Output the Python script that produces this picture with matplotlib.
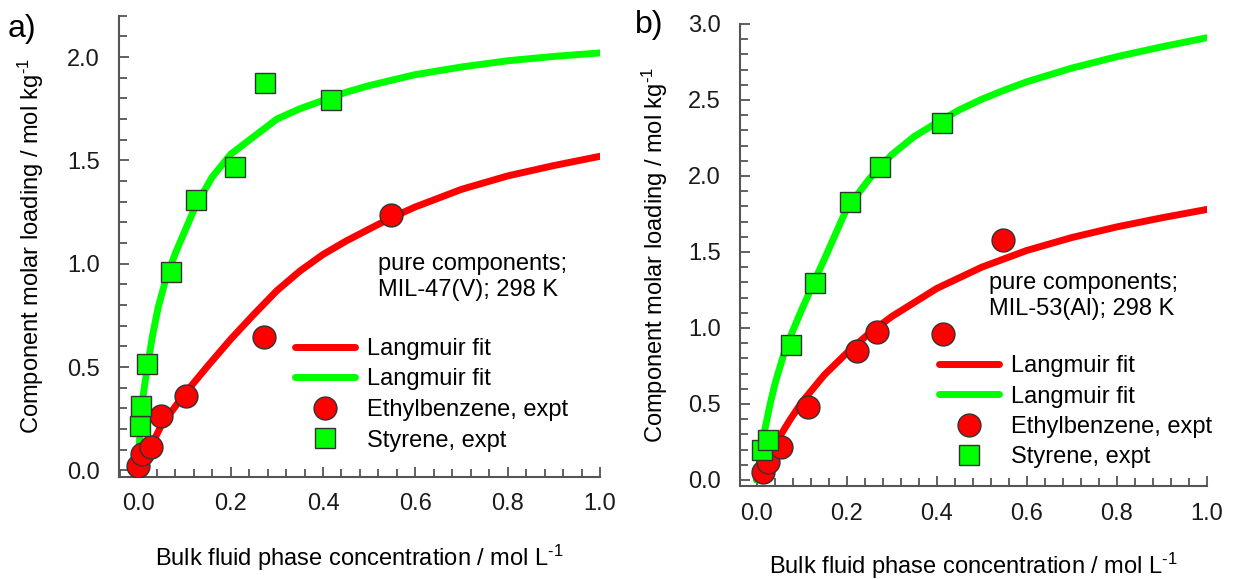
import numpy as np
import matplotlib
matplotlib.use('Agg')
import matplotlib.pyplot as plt
from matplotlib.ticker import MultipleLocator, FormatStrFormatter

plt.rcParams['font.family'] = ['Liberation Sans', 'DejaVu Sans']
plt.rcParams['mathtext.fontset'] = 'custom'
plt.rcParams['mathtext.rm'] = 'Liberation Sans'
plt.rcParams['mathtext.it'] = 'Liberation Sans'

FS = 17

# MIL-47(V): Langmuir fits
fit_a_x = [0.0, 0.003, 0.007, 0.014, 0.02, 0.03, 0.043, 0.06, 0.08, 0.1, 0.125,
           0.16, 0.2, 0.3, 0.35, 0.4, 0.45, 0.5, 0.6, 0.7, 0.8, 0.9, 1.0]
fit_a_sty = [0.0, 0.17, 0.31, 0.42, 0.505, 0.645, 0.79, 0.93, 1.05, 1.155, 1.285,
             1.42, 1.53, 1.70, 1.75, 1.79, 1.83, 1.862, 1.915, 1.952, 1.982,
             2.003, 2.02]
fit_a_eb_x = [0.0, 0.01, 0.028, 0.05, 0.075, 0.1, 0.15, 0.2, 0.25, 0.3, 0.35,
              0.4, 0.45, 0.5, 0.55, 0.6, 0.7, 0.8, 0.9, 1.0]
fit_a_eb = [0.0, 0.05, 0.12, 0.22, 0.295, 0.37, 0.505, 0.635, 0.755, 0.87, 0.965,
            1.045, 1.11, 1.168, 1.225, 1.275, 1.36, 1.425, 1.475, 1.52]

# MIL-47(V): experimental points
eb_a_x = [0.0, 0.007, 0.028, 0.05, 0.104, 0.272, 0.548]
eb_a_q = [0.02, 0.08, 0.116, 0.262, 0.362, 0.644, 1.236]
sty_a_x = [0.003, 0.0065, 0.0195, 0.0715, 0.1257, 0.21, 0.275, 0.418]
sty_a_q = [0.213, 0.31, 0.516, 0.962, 1.309, 1.47, 1.875, 1.793]

# MIL-53(Al): Langmuir fits
fit_b_sty_x = [0.0, 0.01, 0.018, 0.03, 0.041, 0.063, 0.08, 0.1, 0.13, 0.15, 0.2,
               0.25, 0.3, 0.35, 0.4, 0.45, 0.5, 0.55, 0.6, 0.7, 0.8, 0.9, 1.0]
fit_b_sty = [0.0, 0.2, 0.33, 0.50, 0.636, 0.855, 0.98, 1.12, 1.32, 1.45, 1.785,
             1.98, 2.14, 2.26, 2.35, 2.435, 2.505, 2.565, 2.62, 2.71, 2.785,
             2.85, 2.91]
fit_b_eb_x = [0.0, 0.015, 0.03, 0.05, 0.075, 0.1, 0.15, 0.2, 0.25, 0.3, 0.4,
              0.5, 0.6, 0.7, 0.8, 0.9, 1.0]
fit_b_eb = [0.0, 0.09, 0.17, 0.28, 0.40, 0.51, 0.69, 0.835, 0.965, 1.075, 1.26,
            1.40, 1.51, 1.595, 1.665, 1.725, 1.78]

# MIL-53(Al): experimental points
eb_b_x = [0.013, 0.026, 0.054, 0.115, 0.222, 0.268, 0.413, 0.547]
eb_b_q = [0.05, 0.115, 0.218, 0.478, 0.85, 0.976, 0.962, 1.58]
sty_b_x = [0.011, 0.026, 0.076, 0.13, 0.207, 0.274, 0.411]
sty_b_q = [0.2, 0.265, 0.885, 1.294, 1.83, 2.06, 2.347]

RED = '#ff0000'
GREEN = '#00ff00'
EDGE = '#333333'
AXC = '#555555'


def draw_panel(ax, fits, eb, sty, xlim, ylim, ylabel_xy, xlabel_xy,
               note, note_xy, leg_xy, tag, tag_xy):
    (ebx, eby), (stx, sty_) = fits
    ax.plot(ebx, eby, color=RED, lw=5, solid_capstyle='round',
            solid_joinstyle='round', label='Langmuir fit', zorder=2)
    ax.plot(stx, sty_, color=GREEN, lw=5, solid_capstyle='round',
            solid_joinstyle='round', label='Langmuir fit', zorder=2)
    ax.plot(eb[0], eb[1], 'o', ms=16.5, mfc=RED, mec=EDGE, mew=1.0,
            ls='none', label='Ethylbenzene, expt', zorder=3)
    ax.plot(sty[0], sty[1], 's', ms=14.5, mfc=GREEN, mec=EDGE, mew=1.0,
            ls='none', label='Styrene, expt', zorder=4)

    ax.set_xlim(*xlim)
    ax.set_ylim(*ylim)
    ax.xaxis.set_major_locator(MultipleLocator(0.2))
    ax.xaxis.set_minor_locator(MultipleLocator(0.04))
    ax.yaxis.set_major_locator(MultipleLocator(0.5))
    ax.yaxis.set_minor_locator(MultipleLocator(0.1))
    ax.xaxis.set_major_formatter(FormatStrFormatter('%.1f'))
    ax.yaxis.set_major_formatter(FormatStrFormatter('%.1f'))

    for s in ['top', 'right']:
        ax.spines[s].set_visible(False)
    for s in ['left', 'bottom']:
        ax.spines[s].set_color(AXC)
        ax.spines[s].set_linewidth(1.5)
    ax.tick_params(which='both', direction='in', color=AXC, width=1.3,
                   labelsize=FS, labelcolor='#1a1a1a')
    ax.tick_params(which='major', length=7)
    ax.tick_params(which='minor', length=6)
    ax.tick_params(axis='x', which='major', pad=12)
    ax.tick_params(axis='y', which='major', pad=14)

    ax.set_xlabel('Bulk fluid phase concentration / mol L$^{\\text{-1}}$',
                  fontsize=FS, va='center')
    ax.xaxis.set_label_coords(*xlabel_xy)
    ax.set_ylabel('Component molar loading / mol kg$^{\\text{-1}}$',
                  fontsize=FS, va='center')
    ax.yaxis.set_label_coords(*ylabel_xy)

    fig = ax.figure
    fig.text(note_xy[0], note_xy[1], note[0], fontsize=FS, va='center', ha='left')
    fig.text(note_xy[0], note_xy[1] - 26 / 579, note[1], fontsize=FS,
             va='center', ha='left')
    fig.text(tag_xy[0], tag_xy[1], tag, fontsize=23, va='center', ha='left')

    ax.legend(loc='upper left', bbox_to_anchor=leg_xy,
              bbox_transform=fig.transFigure, frameon=False, fontsize=FS,
              numpoints=1, handlelength=2.55, handletextpad=0.5,
              labelspacing=0.36, borderpad=0, borderaxespad=0)


fig = plt.figure(figsize=(12.51, 5.79), dpi=100)
ax_a = fig.add_axes([119 / 1251, 1 - 476.7 / 579, 481 / 1251, 461 / 579])
ax_b = fig.add_axes([740 / 1251, 1 - 486 / 579, 467 / 1251, 462 / 579])

draw_panel(ax_a, ((fit_a_eb_x, fit_a_eb), (fit_a_x, fit_a_sty)),
           (eb_a_x, eb_a_q), (sty_a_x, sty_a_q),
           (-0.042, 1.0), (-0.03, 2.2),
           (-0.183, 0.5), (0.5, -0.176),
           ('pure components;', 'MIL-47(V); 298 K'),
           (378 / 1251, 1 - 264 / 579), (295 / 1251, 1 - 338 / 579),
           'a)', (8 / 1251, 1 - 29 / 579))

draw_panel(ax_b, ((fit_b_eb_x, fit_b_eb), (fit_b_sty_x, fit_b_sty)),
           (eb_b_x, eb_b_q), (sty_b_x, sty_b_q),
           (-0.037, 1.0), (-0.04, 3.0),
           (-0.182, 0.5), (0.5, -0.172),
           ('pure components;', 'MIL-53(Al); 298 K'),
           (989 / 1251, 1 - 282.5 / 579), (939 / 1251, 1 - 355 / 579),
           'b)', (635 / 1251, 1 - 25 / 579))

fig.savefig('out.png', dpi=100)
